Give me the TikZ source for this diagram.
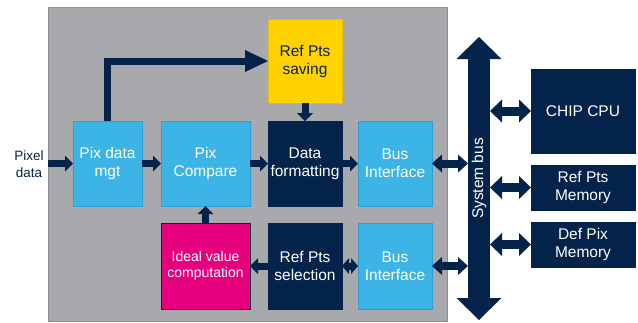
\documentclass[tikz,border=0pt]{standalone}
\usepackage{fontspec}
\setmainfont{Liberation Sans}
\usetikzlibrary{arrows.meta}
\definecolor{stnavy}{HTML}{03234B}
\definecolor{stblue}{HTML}{3CB4E6}
\definecolor{stbluedark}{HTML}{2F9FD2}
\definecolor{styellow}{HTML}{FFD200}
\definecolor{styellowdark}{HTML}{E8BE00}
\definecolor{stmag}{HTML}{E6007E}
\definecolor{panelgray}{HTML}{A8A9AC}
\definecolor{panelborder}{HTML}{8A8C90}
\tikzset{
  blk/.style={anchor=north west, inner sep=0pt, outer sep=0pt, align=center,
    line width=0.8pt, font=\fontsize{15.5}{18}\selectfont, text=white},
  bluebox/.style={blk, fill=stblue, draw=stbluedark},
  navybox/.style={blk, fill=stnavy, draw=stnavy},
  yellowbox/.style={blk, fill=styellow, draw=styellowdark, text=stnavy},
  magbox/.style={blk, fill=stmag, draw=stnavy, font=\fontsize{14}{16.5}\selectfont},
  conn/.style={draw=stnavy, line width=7pt, -{Triangle[width=16pt,length=8pt,line width=0pt]}},
  dconn/.style={draw=stnavy, line width=7pt, {Triangle[width=16pt,length=7pt,line width=0pt]}-{Triangle[width=16pt,length=7pt,line width=0pt]}},
  busconn/.style={draw=stnavy, line width=8pt, {Triangle[width=18pt,length=10pt,line width=0pt]}-{Triangle[width=18pt,length=10pt,line width=0pt]}},
  extconn/.style={draw=stnavy, line width=9pt, {Triangle[width=23pt,length=12pt,line width=0pt]}-{Triangle[width=23pt,length=12pt,line width=0pt]}},
  bigconn/.style={draw=stnavy, line width=7pt, line join=miter, -{Triangle[width=22pt,length=23pt,line width=0pt]}},
}
\begin{document}
\begin{tikzpicture}[x=1pt,y=-1pt]
\useasboundingbox (0,0) rectangle (638,322);
% panel
\node[anchor=north west, inner sep=0pt, outer sep=0pt, minimum width=399pt, minimum height=314pt,
  fill=panelgray, draw=panelborder, line width=0.8pt] (panel) at (48,7) {};
% blocks
\node[yellowbox, minimum width=74pt, minimum height=84pt] (rps) at (268,19) {Ref Pts\\saving};
\node[bluebox, minimum width=69pt, minimum height=85pt] (pdm) at (73,121) {Pix data\\mgt};
\node[bluebox, minimum width=89pt, minimum height=85pt] (pc) at (161,121) {Pix\\Compare};
\node[navybox, minimum width=74pt, minimum height=85pt] (df) at (268,121) {Data\\formatting};
\node[bluebox, minimum width=74pt, minimum height=85pt] (bi1) at (358,121) {Bus\\Interface};
\node[magbox, minimum width=89pt, minimum height=86pt] (ivc) at (161,223) {Ideal value\\computation};
\node[navybox, minimum width=74pt, minimum height=86pt] (rpsel) at (268,223) {Ref Pts\\selection};
\node[bluebox, minimum width=74pt, minimum height=86pt] (bi2) at (358,223) {Bus\\Interface};
% external blocks
\node[navybox, minimum width=104pt, minimum height=84pt] (cpu) at (531,69) {CHIP CPU};
\node[navybox, minimum width=104pt, minimum height=45pt] (rpm) at (531,165) {Ref Pts\\Memory};
\node[navybox, minimum width=104pt, minimum height=45pt] (dpm) at (531,222) {Def Pix\\Memory};
% input label
\node[align=center, text=stnavy, font=\fontsize{13.5}{17}\selectfont, inner sep=0pt] (pix) at (29,164) {Pixel\\data};
% system bus
\node[inner sep=0pt, outer sep=0pt, minimum width=22pt, minimum height=283pt] (bus) at (479,178.5) {};
\draw[draw=stnavy, line width=22pt,
  {Triangle[width=45pt,length=22pt,line width=0pt]}-{Triangle[width=45pt,length=22pt,line width=0pt]}]
  (bus.north) -- (bus.south);
\node[rotate=90, text=white, font=\fontsize{15.5}{18}\selectfont, inner sep=0pt] (buslabel) at (bus.center) {System bus};
% connectors
\draw[conn] (panel.west |- pdm.west) -- (pdm.west);
\draw[conn] (pdm.east) -- (pc.west);
\draw[conn] (pc.east) -- (df.west);
\draw[conn] (df.east) -- (bi1.west);
\draw[conn] (rps.south) -- (df.north);
\draw[conn] (ivc.north) -- (pc.south);
\draw[conn] (rpsel.west) -- (ivc.east);
\draw[dconn] (rpsel.east) -- (bi2.west);
\draw[bigconn] (pdm.north) |- (rps.west);
\draw[busconn] (bi1.east) -- (bus.west |- bi1.east);
\draw[busconn] (bi2.east) -- (bus.west |- bi2.east);
\draw[extconn] (bus.east |- cpu.west) -- (cpu.west);
\draw[extconn] (bus.east |- rpm.west) -- (rpm.west);
\draw[extconn] (bus.east |- dpm.west) -- (dpm.west);
\end{tikzpicture}
\end{document}
